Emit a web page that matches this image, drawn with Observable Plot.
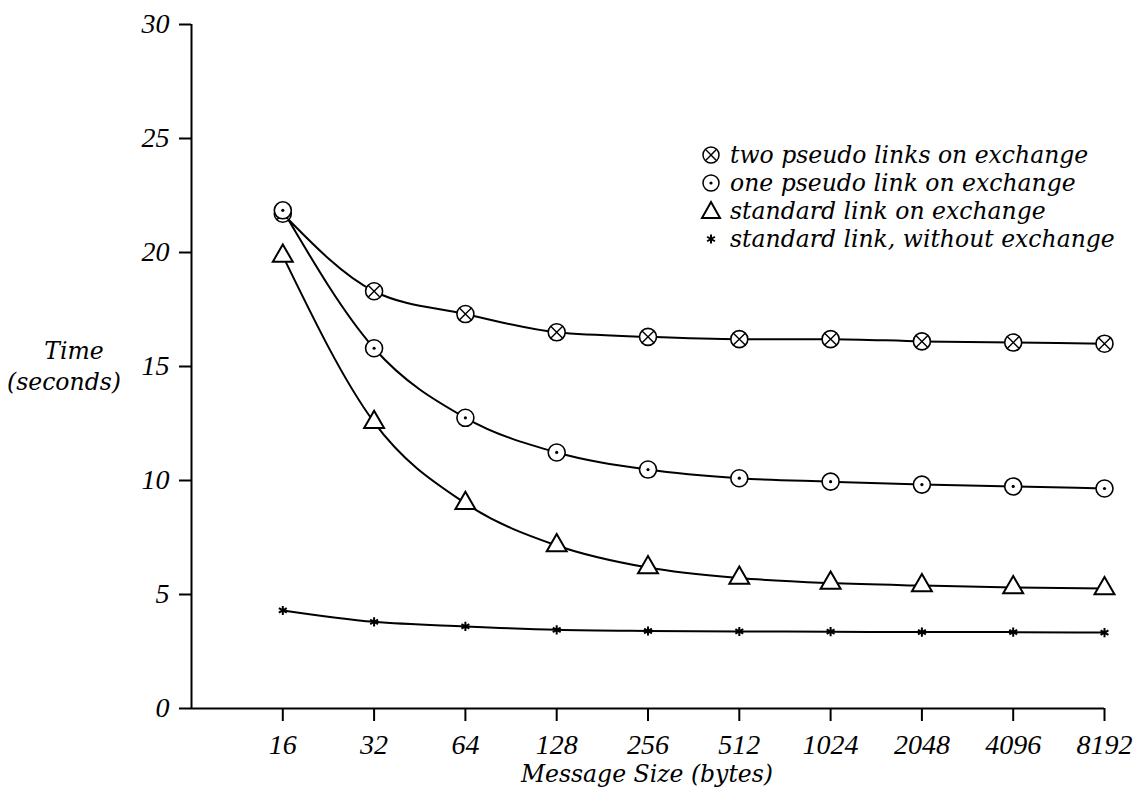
<!DOCTYPE html>
<html>
<head>
<meta charset="utf-8">
<script src="https://cdn.jsdelivr.net/npm/d3@7"></script>
<script src="https://cdn.jsdelivr.net/npm/@observablehq/plot@0.6"></script>
<style>
  html, body { margin: 0; padding: 0; background: #fff; }
  #wrap { position: relative; width: 1136px; height: 804px; overflow: hidden; }
  .lbl { position: absolute; font-family: "DejaVu Serif", serif; font-style: italic; color: #000; white-space: nowrap; }
  #legend { position: absolute; left: 696px; top: 141px; font-family: "DejaVu Serif", serif; font-style: italic; font-size: 23.5px; color:#000; }
  #legend .row { height: 28px; display: flex; align-items: center; white-space: nowrap; }
  #legend svg { width: 30px; height: 28px; flex: none; }
</style>
</head>
<body>
<div id="wrap"></div>
<script>
const sizes = [16, 32, 64, 128, 256, 512, 1024, 2048, 4096, 8192];
const twoPseudo = [21.7, 18.3, 17.3, 16.5, 16.3, 16.2, 16.2, 16.1, 16.05, 16.0];
const onePseudo = [21.85, 15.8, 12.75, 11.23, 10.48, 10.1, 9.95, 9.82, 9.74, 9.65];
const standardEx = [19.85, 12.55, 9.0, 7.15, 6.18, 5.72, 5.5, 5.39, 5.31, 5.26];
const standardNoEx = [4.3, 3.8, 3.6, 3.45, 3.4, 3.38, 3.37, 3.35, 3.35, 3.33];
const seriesNames = [
  "two pseudo links on exchange",
  "one pseudo link on exchange",
  "standard link on exchange",
  "standard link, without exchange"
];
const yTicks = [0, 5, 10, 15, 20, 25, 30];

const rows = (vals) => sizes.map((s, i) => ({x: s, y: vals[i]}));
const dTwo = rows(twoPseudo), dOne = rows(onePseudo), dStd = rows(standardEx), dNo = rows(standardNoEx);

const lineOpts = {x: "x", y: "y", stroke: "black", strokeWidth: 2, curve: "monotone-x"};

const chart = Plot.plot({
  width: 1136,
  height: 804,
  marginLeft: 191,
  marginRight: 32,
  marginTop: 24,
  marginBottom: 96,
  style: {fontFamily: "'Liberation Serif', serif", fontStyle: "italic", fontSize: "28px", color: "black", background: "white"},
  x: {type: "log", base: 2, domain: [8, 8192]},
  y: {domain: [0, 30]},
  marks: [
    Plot.ruleX([8], {stroke: "black", strokeWidth: 2}),
    Plot.ruleY([0], {stroke: "black", strokeWidth: 2}),
    Plot.axisY({ticks: yTicks, tickSize: 12, tickPadding: 10, strokeWidth: 2, label: null, fontSize: 28}),
    Plot.axisX({ticks: sizes, tickSize: 13, tickPadding: 13, strokeWidth: 2, tickFormat: d => String(d), label: null, fontSize: 28}),
    Plot.line(dTwo, lineOpts),
    Plot.line(dOne, lineOpts),
    Plot.line(dStd, lineOpts),
    Plot.line(dNo, lineOpts),
    Plot.dot(dTwo, {x: "x", y: "y", r: 8.5, stroke: "black", fill: "white", strokeWidth: 1.6}),
    Plot.dot(dTwo, {x: "x", y: "y", r: 5.5, symbol: "times", stroke: "black", strokeWidth: 1.4}),
    Plot.dot(dOne, {x: "x", y: "y", r: 8.5, stroke: "black", fill: "white", strokeWidth: 1.6}),
    Plot.dot(dOne, {x: "x", y: "y", r: 1.6, fill: "black", stroke: "none"}),
    Plot.dot(dStd, {x: "x", y: "y", r: 7.4, symbol: "triangle", stroke: "black", fill: "white", strokeWidth: 2}),
    Plot.dot(dNo, {x: "x", y: "y", r: 4.3, symbol: "asterisk", stroke: "black", strokeWidth: 2})
  ]
});

const wrap = document.getElementById("wrap");
wrap.appendChild(chart);

// axis titles
const yl1 = document.createElement("div");
yl1.className = "lbl"; yl1.textContent = "Time";
yl1.style.cssText = "left:10px;width:128px;text-align:center;top:337px;font-size:23.5px;";
wrap.appendChild(yl1);
const yl2 = document.createElement("div");
yl2.className = "lbl"; yl2.textContent = "(seconds)";
yl2.style.cssText = "left:0;width:128px;text-align:center;top:368px;font-size:23.5px;";
wrap.appendChild(yl2);
const xl = document.createElement("div");
xl.className = "lbl"; xl.textContent = "Message Size (bytes)";
xl.style.cssText = "left:0;width:1294px;text-align:center;top:760px;font-size:23.5px;";
wrap.appendChild(xl);

// legend
const symSvg = [
  '<svg viewBox="-15 -14 30 28"><circle r="8" fill="white" stroke="black" stroke-width="1.5"/><path d="M-5.4,-5.4L5.4,5.4M-5.4,5.4L5.4,-5.4" stroke="black" stroke-width="1.4"/></svg>',
  '<svg viewBox="-15 -14 30 28"><circle r="8" fill="white" stroke="black" stroke-width="1.5"/><circle r="1.6" fill="black"/></svg>',
  '<svg viewBox="-15 -14 30 28"><path d="M0,-9L9,7L-9,7Z" fill="white" stroke="black" stroke-width="2"/></svg>',
  '<svg viewBox="-15 -14 30 28"><path d="M0,-4.5L0,4.5M-3.9,-2.25L3.9,2.25M-3.9,2.25L3.9,-2.25" stroke="black" stroke-width="2"/></svg>'
];
const legend = document.createElement("div");
legend.id = "legend";
seriesNames.forEach((name, i) => {
  const row = document.createElement("div");
  row.className = "row";
  row.innerHTML = symSvg[i] + '<span style="margin-left:4px">' + name + '</span>';
  legend.appendChild(row);
});
wrap.appendChild(legend);
</script>
</body>
</html>
